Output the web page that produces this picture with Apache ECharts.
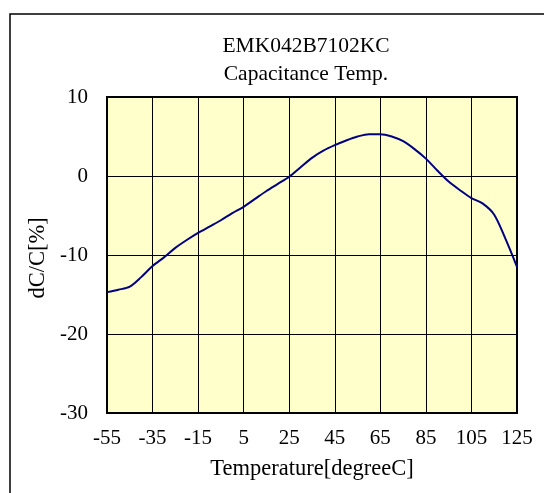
<!DOCTYPE html>
<html>
<head>
<meta charset="utf-8">
<script src="https://cdn.jsdelivr.net/npm/echarts@6/dist/echarts.min.js"></script>
<style>html,body{margin:0;padding:0;background:#fff}#c{width:544px;height:493px}</style>
</head>
<body>
<div id="c"></div>
<script>
var titleLines = ['EMK042B7102KC', 'Capacitance Temp.'];
var xName = 'Temperature[degreeC]';
var yName = 'dC/C[%]';
var T_MIN = -55, T_MAX = 125, T_STEP = 20;
var Y_MIN = -30, Y_MAX = 10, Y_STEP = 10;
var temps = [-55,-50,-45,-40,-35,-30,-25,-20,-15,-10,-5,0,5,10,15,20,25,30,35,40,45,50,55,60,65,70,75,80,85,90,95,100,105,110,115,120,125];
var dcc   = [-14.7,-14.4,-14.0,-12.8,-11.4,-10.3,-9.1,-8.1,-7.2,-6.4,-5.6,-4.7,-3.9,-2.9,-1.9,-1.0,-0.1,1.1,2.3,3.2,3.9,4.5,5.0,5.3,5.3,5.0,4.4,3.4,2.2,0.7,-0.7,-1.8,-2.8,-3.5,-4.9,-8.0,-11.5];

var FONT = 'Liberation Serif, Times New Roman, serif';
var chart = echarts.init(document.getElementById('c'), null, {renderer: 'canvas'});
var pts = temps.map(function (t, i) { return [t - T_MIN, dcc[i]]; });

chart.setOption({
  animation: false,
  backgroundColor: '#ffffff',
  grid: {left: 107, top: 97, right: 27, bottom: 80, show: true, backgroundColor: '#FFFFCC', borderColor: '#000', borderWidth: 2, containLabel: false},
  graphic: [
    {type: 'rect', shape: {x: 10, y: 14, width: 600, height: 600}, style: {fill: 'none', stroke: '#000', lineWidth: 1.5}, z: -1},
    {type: 'text', x: 306, y: 32, style: {text: titleLines.join('\n'), textAlign: 'center', textVerticalAlign: 'top', font: '21.5px ' + FONT, lineHeight: 28, fill: '#000'}}
  ],
  xAxis: {
    type: 'value', min: 0, max: T_MAX - T_MIN, interval: T_STEP,
    name: xName, nameLocation: 'middle', nameGap: 45,
    nameTextStyle: {fontFamily: FONT, fontSize: 22.5, color: '#000'},
    axisLine: {show: false}, axisTick: {show: false},
    axisLabel: {margin: 15, fontFamily: FONT, fontSize: 21, color: '#000', formatter: function (v) { return String(v + T_MIN); }},
    splitLine: {show: true, lineStyle: {color: '#000', width: 1}}
  },
  yAxis: {
    type: 'value', min: Y_MIN, max: Y_MAX, interval: Y_STEP,
    name: yName, nameLocation: 'middle', nameGap: 57,
    nameTextStyle: {fontFamily: FONT, fontSize: 22.5, color: '#000', padding: [0, 6, 0, 0]},
    axisLine: {show: false}, axisTick: {show: false},
    axisLabel: {margin: 19, fontFamily: FONT, fontSize: 21, color: '#000'},
    splitLine: {show: true, lineStyle: {color: '#000', width: 1}}
  },
  series: [{
    type: 'line', data: pts, smooth: 0.3, symbol: 'none',
    lineStyle: {color: '#000080', width: 2}, z: 3
  }]
});
</script>
</body>
</html>
